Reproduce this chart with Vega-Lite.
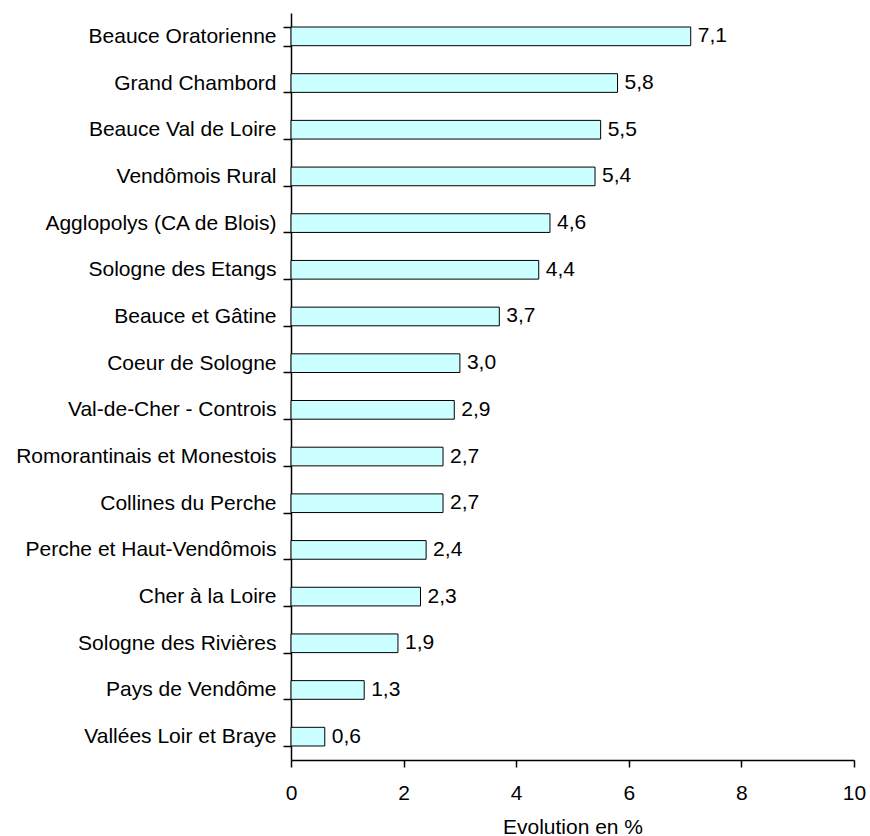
{
  "$schema": "https://vega.github.io/schema/vega-lite/v6.json",
  "width": 563,
  "height": 747,
  "autosize": {"type": "none"},
  "padding": {"left": 291, "top": 13, "right": 16, "bottom": 76},
  "background": "white",
  "config": {
    "view": {"stroke": null},
    "font": "Liberation Sans",
    "locale": {"number": {"decimal": ",", "thousands": " ", "grouping": [3], "currency": ["", " €"]}},
    "axis": {
      "labelFont": "Liberation Sans",
      "titleFont": "Liberation Sans",
      "labelFontSize": 21,
      "titleFontSize": 21,
      "labelColor": "black",
      "titleColor": "black",
      "domainColor": "black",
      "tickColor": "black",
      "domainWidth": 1.5,
      "tickWidth": 1.5,
      "grid": false,
      "titleFontWeight": "normal"
    }
  },
  "data": {
    "values": [
      {"zone": "Beauce Oratorienne", "value": 7.1},
      {"zone": "Grand Chambord", "value": 5.8},
      {"zone": "Beauce Val de Loire", "value": 5.5},
      {"zone": "Vendômois Rural", "value": 5.4},
      {"zone": "Agglopolys (CA de Blois)", "value": 4.6},
      {"zone": "Sologne des Etangs", "value": 4.4},
      {"zone": "Beauce et Gâtine", "value": 3.7},
      {"zone": "Coeur de Sologne", "value": 3.0},
      {"zone": "Val-de-Cher - Controis", "value": 2.9},
      {"zone": "Romorantinais et Monestois", "value": 2.7},
      {"zone": "Collines du Perche", "value": 2.7},
      {"zone": "Perche et Haut-Vendômois", "value": 2.4},
      {"zone": "Cher à la Loire", "value": 2.3},
      {"zone": "Sologne des Rivières", "value": 1.9},
      {"zone": "Pays de Vendôme", "value": 1.3},
      {"zone": "Vallées Loir et Braye", "value": 0.6}
    ]
  },
  "encoding": {
    "y": {
      "field": "zone",
      "type": "nominal",
      "sort": null,
      "scale": {"paddingInner": 0.6, "paddingOuter": 0.3},
      "axis": {
        "title": null,
        "tickBand": "extent",
        "tickSize": 8,
        "labelPadding": 7,
        "labelLimit": 400
      }
    },
    "x": {
      "field": "value",
      "type": "quantitative",
      "scale": {"domain": [0, 10], "nice": false},
      "axis": {
        "title": "Evolution en %",
        "values": [0, 2, 4, 6, 8, 10],
        "format": "d",
        "tickSize": 7,
        "labelPadding": 15,
        "labelFlush": false,
        "titlePadding": 13
      }
    }
  },
  "layer": [
    {
      "mark": {"type": "bar", "color": "#CCFFFF", "stroke": "black", "strokeWidth": 1}
    },
    {
      "mark": {"type": "text", "align": "left", "baseline": "middle", "dx": 7, "fontSize": 21, "font": "Liberation Sans", "color": "black"},
      "encoding": {
        "text": {"field": "value", "type": "quantitative", "format": ".1f"}
      }
    }
  ]
}
